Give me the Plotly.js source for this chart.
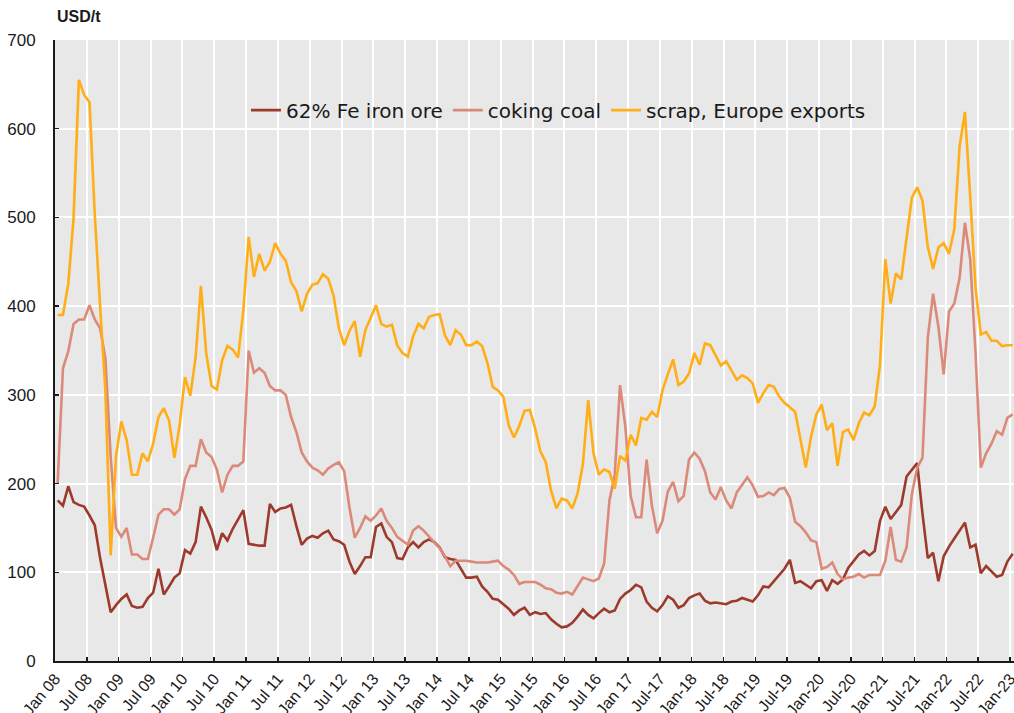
<!DOCTYPE html>
<html>
<head>
<meta charset="utf-8">
<script src="https://cdn.plot.ly/plotly-3.0.1.min.js"></script>
<style>
  html, body { margin: 0; padding: 0; background: #fff; }
  #chart { width: 1014px; height: 713px; }
</style>
</head>
<body>
<div id="chart"></div>
<script>
// monthly, Jan 08 .. Jan 23 (USD/t)
const ironOre = [
  181, 175, 197, 179, 176, 174, 164, 153, 116, 86, 55, 63,
  70, 75, 62, 60, 61, 71, 77, 104, 75, 84, 94, 99,
  125, 121, 134, 174, 162, 148, 125, 144, 136, 149, 160, 170,
  132, 131, 130, 130, 177, 168, 172, 173, 176, 152, 131, 138,
  141, 139, 144, 147, 137, 135, 131, 112, 98, 107, 117, 117,
  151, 155, 140, 134, 116, 115, 128, 134, 128, 134, 137, 134,
  128, 117, 115, 114, 104, 94, 94, 95, 84, 78, 70, 69,
  64, 59, 52, 57, 60, 52, 55, 53, 54, 47, 42, 38,
  39, 43, 50, 58, 52, 48, 54, 59, 55, 57, 70, 76,
  80, 86, 83, 67, 60, 56, 63, 73, 69, 60, 63, 71,
  74, 76, 68, 65, 66, 65, 64, 67, 68, 71, 69, 67,
  74, 84, 83, 90, 96, 104, 114, 88, 90, 86, 82, 90,
  91, 79, 91, 87, 92, 105, 112, 120, 124, 119, 124, 158,
  174, 160, 168, 176, 208, 216, 223, 166, 116, 122, 90, 118,
  129, 138, 147, 156, 128, 131, 99, 107, 101, 95, 97, 112,
  121
];

const cokingCoal = [
  200, 330, 349, 380, 385, 385, 401, 385, 375, 341, 230, 150,
  140, 150, 120, 120, 115, 115, 139, 165, 171, 171, 165, 171,
  205, 220, 220, 250, 235, 230, 216, 190, 210, 220, 220, 225,
  350, 325, 330, 325, 310, 305, 305, 300, 275, 258, 235, 225,
  218, 215, 210, 217, 221, 224, 214, 173, 139, 150, 163, 158,
  164, 172, 158, 150, 140, 136, 131, 147, 152, 147, 140, 134,
  127, 118, 107, 113, 113, 113, 112, 111, 111, 111, 112, 113,
  107, 103, 97, 87, 89, 89, 89, 86, 82, 81, 77, 76,
  78, 75, 84, 94, 92, 90, 93, 110, 181, 210, 311, 264,
  186, 162, 162, 227, 175, 144, 158, 191, 202, 180, 186, 227,
  235, 228, 214, 190, 182, 196, 181, 172, 190, 198, 207, 198,
  185, 186, 190, 187, 194, 195, 184, 157, 152, 145, 136, 134,
  104, 106, 111, 98, 92, 94, 95, 98, 94, 97, 97, 97,
  113, 151, 114, 112, 128, 188, 218, 229, 364, 414, 377, 323,
  394, 403, 432, 494, 453, 347, 218, 234, 245, 259, 255, 274,
  278
];

const scrapEurope = [
  390, 390, 425, 499, 655, 638, 630, 503, 400, 304, 119, 231,
  270, 249, 210, 210, 234, 225, 245, 275, 285, 271, 229, 266,
  320, 299, 342, 423, 347, 310, 306, 339, 355, 351, 342, 395,
  478, 433, 459, 440, 450, 471, 459, 451, 427, 417, 394, 414,
  424, 426, 436, 431, 412, 375, 356, 372, 383, 343, 373, 387,
  401, 380, 377, 379, 356, 347, 343, 366, 380, 375, 388, 390,
  391, 367, 356, 373, 368, 356, 356, 360, 355, 336, 309, 305,
  298, 266, 252, 265, 282, 283, 262, 236, 224, 192, 172, 183,
  181, 172, 189, 222, 294, 234, 210, 216, 213, 194, 231, 226,
  255, 243, 274, 272, 281, 275, 305, 323, 340, 311, 315, 324,
  347, 334, 358, 356, 345, 333, 338, 327, 317, 322, 319, 313,
  291, 302, 311, 309, 298, 291, 286, 281, 250, 218, 253, 278,
  289, 260, 268, 220, 258, 261, 249, 268, 280, 277, 287, 334,
  453, 403, 437, 430, 477, 522, 534, 519, 467, 442, 466, 471,
  459, 487, 580, 619, 523, 421, 368, 371, 361, 361, 355, 356,
  356
];

const tickLabels = [
  'Jan 08', 'Jul 08', 'Jan 09', 'Jul 09', 'Jan 10', 'Jul 10', 'Jan 11', 'Jul 11',
  'Jan 12', 'Jul 12', 'Jan 13', 'Jul 13', 'Jan 14', 'Jul 14', 'Jan 15', 'Jul 15',
  'Jan 16', 'Jul 16', 'Jan 17', 'Jul-17', 'Jan-18', 'Jul-18', 'Jan-19', 'Jul-19',
  'Jan-20', 'Jul-20', 'Jan-21', 'Jul-21', 'Jan-22', 'Jul-22', 'Jan-23'
];

const seriesNames = ['62% Fe iron ore', 'coking coal', 'scrap, Europe exports'];
const seriesColors = ['#9c3a2b', '#db8a79', '#ffae17'];

// points sit mid-month, ticks at month start
const months = ironOre.map((_, i) => i + 0.5);
const tickVals = tickLabels.map((_, i) => i * 6);

const bg = '#e8e8e8';

const traces = [ironOre, cokingCoal, scrapEurope].map((ys, i) => ({
  x: months,
  y: ys,
  type: 'scatter',
  mode: 'lines',
  name: seriesNames[i],
  line: { color: seriesColors[i], width: 2.6 },
  hoverinfo: 'skip',
}));

const layout = {
  width: 1014,
  height: 713,
  margin: { l: 55, r: 0, t: 40, b: 52 },
  paper_bgcolor: '#ffffff',
  plot_bgcolor: bg,
  font: { family: 'Liberation Sans, Arial, sans-serif', color: '#1a1a1a' },
  showlegend: true,
  legend: {
    orientation: 'h',
    x: 0.525,
    xanchor: 'center',
    y: 0.887,
    yanchor: 'middle',
    bgcolor: 'rgba(0,0,0,0)',
    itemwidth: 30,
    font: { family: 'DejaVu Sans, Verdana, sans-serif', size: 20, color: '#1a1a1a' },
  },
  xaxis: {
    range: [0, 180.75],
    tickmode: 'array',
    tickvals: tickVals,
    ticktext: tickLabels,
    tickangle: -50,
    tickfont: { family: 'Liberation Sans, Arial, sans-serif', size: 16, color: '#1a1a1a' },
    ticklabeloverflow: 'allow',
    ticks: 'inside',
    ticklen: 4,
    tickwidth: 1.5,
    tickcolor: '#1a1a1a',
    showgrid: true,
    gridcolor: '#ffffff',
    gridwidth: 2,
    showline: true,
    linecolor: '#1a1a1a',
    linewidth: 2,
    zeroline: false,
    fixedrange: true,
  },
  yaxis: {
    range: [0, 700],
    tickvals: [0, 100, 200, 300, 400, 500, 600, 700],
    tickfont: { family: 'Liberation Sans, Arial, sans-serif', size: 17, color: '#1a1a1a' },
    ticks: 'inside',
    ticklen: 4,
    tickwidth: 1.5,
    tickcolor: '#1a1a1a',
    ticklabelstandoff: 14,
    showgrid: true,
    gridcolor: '#ffffff',
    gridwidth: 2,
    showline: true,
    linecolor: '#1a1a1a',
    linewidth: 2,
    zeroline: false,
    fixedrange: true,
  },
  shapes: [
    {
      // legend panel hides the grid behind it
      type: 'rect',
      xref: 'paper',
      yref: 'paper',
      x0: 0.1804,
      x1: 0.8655,
      y0: 0.8229,
      y1: 0.9517,
      fillcolor: bg,
      line: { width: 0 },
      layer: 'between',
    },
  ],
  annotations: [
    {
      text: '<b>USD/t</b>',
      xref: 'paper',
      yref: 'paper',
      x: 0,
      y: 1.038,
      xanchor: 'left',
      yanchor: 'middle',
      showarrow: false,
      font: { family: 'Liberation Sans, Arial, sans-serif', size: 16, color: '#1a1a1a' },
    },
  ],
};

Plotly.newPlot('chart', traces, layout, { displayModeBar: false, staticPlot: true });
</script>
</body>
</html>
